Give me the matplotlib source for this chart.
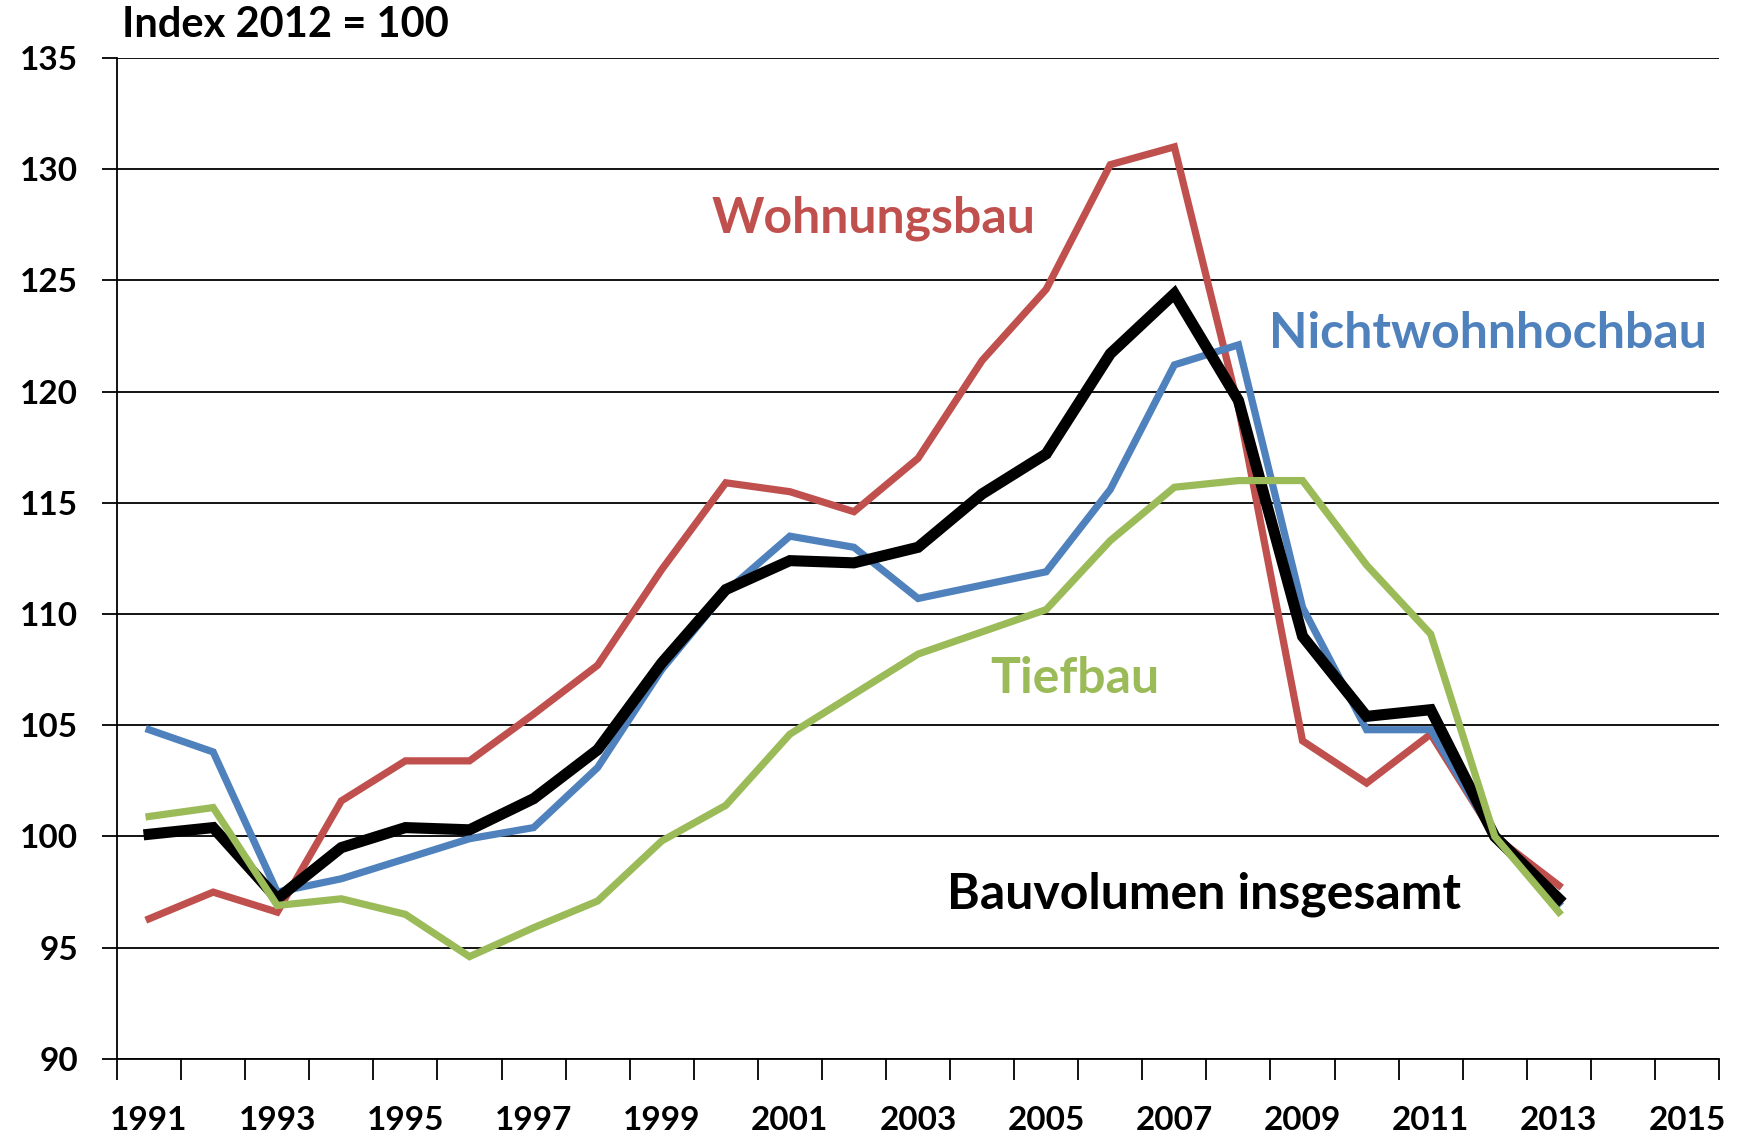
import numpy as np
import matplotlib.pyplot as plt

plt.rcParams['font.family'] = ['Lato', 'DejaVu Sans']
plt.rcParams['font.weight'] = 'bold'

# categories on the x axis (data only until 2013)
years = list(range(1991, 2016))
data_years = list(range(1991, 2014))

# Index 2012 = 100
bauvolumen = [100.1, 100.4, 97.2, 99.5, 100.4, 100.3, 101.7, 103.9, 107.8, 111.1, 112.4, 112.3,
              113.0, 115.4, 117.2, 121.7, 124.4, 119.6, 109.0, 105.4, 105.7, 100.0, 97.2]
wohnungsbau = [96.3, 97.5, 96.6, 101.6, 103.4, 103.4, 105.5, 107.7, 112.0, 115.9, 115.5, 114.6,
               117.0, 121.4, 124.6, 130.2, 131.0, 119.3, 104.3, 102.4, 104.6, 100.0, 97.8]
nichtwohn = [104.8, 103.8, 97.5, 98.1, 99.0, 99.9, 100.4, 103.1, 107.5, 111.0, 113.5, 113.0,
             110.7, 111.3, 111.9, 115.6, 121.2, 122.1, 110.3, 104.8, 104.8, 100.0, 97.0]
tiefbau = [100.9, 101.3, 96.9, 97.2, 96.5, 94.6, 95.9, 97.1, 99.8, 101.4, 104.6, 106.4,
           108.2, 109.2, 110.2, 113.3, 115.7, 116.0, 116.0, 112.2, 109.1, 100.0, 96.6]

red = '#C0504D'
blue = '#4F81BD'
green = '#9BBB59'

fig = plt.figure(figsize=(17.47, 11.35), dpi=100)
ax = fig.add_axes([0.067, 0.067, 0.917, 0.882])

x = np.arange(len(data_years))
lw = 5.2
ax.plot(x, wohnungsbau, color=red, lw=lw, solid_joinstyle='miter', zorder=3)
ax.plot(x, bauvolumen, color='black', lw=8, solid_joinstyle='miter', zorder=4)
ax.plot(x, tiefbau, color=green, lw=lw, solid_joinstyle='miter', zorder=5)
ax.plot(x, nichtwohn, color=blue, lw=lw, solid_joinstyle='miter', zorder=3.5)

ax.set_xlim(-0.5, len(years) - 0.5)
ax.set_ylim(90, 135)
ax.set_yticks(np.arange(90, 136, 5))
ax.yaxis.grid(True, color='black', lw=1.3)
ax.set_axisbelow(True)

# ticks at category boundaries, labels every second year
ax.set_xticks(np.arange(-0.5, len(years), 1.0), minor=True)
ax.set_xticks(np.arange(0, len(years), 2))
ax.set_xticklabels([str(y) for y in years[::2]])
ax.tick_params(axis='x', which='major', length=0, pad=34, labelsize=24)
ax.tick_params(axis='x', which='minor', length=15, width=1.3, direction='out')
ax.tick_params(axis='y', length=11, width=1.3, labelsize=24, pad=17)

for s in ['top', 'right']:
    ax.spines[s].set_visible(False)
for s in ['left', 'bottom']:
    ax.spines[s].set_linewidth(1.3)

ax.text(11.3, 127.8, 'Wohnungsbau', color=red, fontsize=36, ha='center', va='center')
ax.text(20.9, 122.6, 'Nichtwohnhochbau', color=blue, fontsize=36, ha='center', va='center')
ax.text(14.45, 107.1, 'Tiefbau', color=green, fontsize=36, ha='center', va='center')
ax.text(16.47, 97.4, 'Bauvolumen insgesamt', color='black', fontsize=36, ha='center', va='center')

fig.text(0.07, 0.978, 'Index 2012 = 100', fontsize=30, ha='left', va='center')

fig.savefig('out.png', dpi=100, facecolor='white')
